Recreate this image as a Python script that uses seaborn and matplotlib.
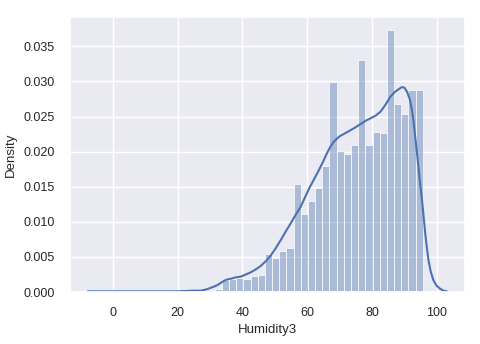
"""
Humidity3 분포 — 히스토그램(density) + KDE 곡선 재현
"""
import pandas as pd
import matplotlib
matplotlib.use("Agg")
import matplotlib.pyplot as plt
import seaborn as sns

# ── 데이터 ─────────────────────────────────────────
bin_start = 29.2
bin_width = 2.214
bar_density = [0.0002, 0.0004,
               0.0017, 0.0018, 0.0020, 0.0018, 0.0023, 0.0025,
               0.0054, 0.0049, 0.0058, 0.0063, 0.0154, 0.0111,
               0.0130, 0.0148, 0.0179, 0.0299, 0.0201, 0.0196,
               0.0210, 0.0330, 0.0210, 0.0228, 0.0226, 0.0373,
               0.0268, 0.0254, 0.0288, 0.0288]

kde_x = [-7.7, 0, 10, 20, 25, 27.2, 29, 30.2, 31.3, 32.3, 33.3, 34.3,
         35.3, 36.4, 38, 39.5, 41, 42.5, 44, 45.6, 47.2, 48.7, 50.2,
         51.8, 53.3, 54.9, 56.4, 57.9, 59.2, 60.5, 62, 63.5, 65, 66,
         67, 68, 68.8, 70, 72, 75, 78, 81, 82.6, 84, 85.6, 87, 88.2,
         89.2, 90, 90.8, 91.6, 92.3, 92.8, 93.3, 93.8, 94.3, 94.8,
         95.4, 95.9, 96.4, 96.9, 97.4, 98.1, 98.9, 99.9, 100.9, 102,
         103.1]
kde_y = [0.0001, 0.0001, 0.0001, 0.0001, 0.0002, 0.0002, 0.0004, 0.0006,
         0.0008, 0.0010, 0.0013, 0.0016, 0.0018, 0.0019, 0.0021,
         0.0022, 0.0025, 0.0028, 0.0032, 0.0037, 0.0044, 0.0052,
         0.0062, 0.0074, 0.0086, 0.0098, 0.0110, 0.0121, 0.0134,
         0.0147, 0.0160, 0.0173, 0.0187, 0.0197, 0.0206, 0.0213,
         0.0217, 0.0222, 0.0227, 0.0235, 0.0244, 0.0251, 0.0257,
         0.0266, 0.0278, 0.0285, 0.0289, 0.0292, 0.0291, 0.0285,
         0.0275, 0.0259, 0.0242, 0.0221, 0.0200, 0.0178, 0.0155,
         0.0131, 0.0107, 0.0083, 0.0063, 0.0045, 0.0029, 0.0017,
         0.0009, 0.0005, 0.0002, 0.0001]

xticks = [0, 20, 40, 60, 80, 100]
yticks = [0.000, 0.005, 0.010, 0.015, 0.020, 0.025, 0.030, 0.035]

# ── 스타일 ────────────────────────────────────────────────
sns.set_theme(style="darkgrid")
plt.rcParams["font.family"] = ["Liberation Sans", "DejaVu Sans"]

edges = [bin_start + bin_width * i for i in range(len(bar_density) + 1)]
centers = [(a + b) / 2 for a, b in zip(edges[:-1], edges[1:])]
hist_df = pd.DataFrame({"Humidity3": centers, "density": bar_density})
kde_df = pd.DataFrame({"x": kde_x, "y": kde_y})

blue = "#4C72B0"
fig = plt.figure(figsize=(4.8, 3.44), dpi=100)
ax = fig.add_axes([0.146, 0.151, 0.823, 0.800])

sns.histplot(data=hist_df, x="Humidity3", weights="density", bins=edges,
             stat="count", color=blue, alpha=0.4, edgecolor="white",
             linewidth=0.5, ax=ax)
sns.lineplot(data=kde_df, x="x", y="y", color=blue, lw=1.5, ax=ax)

ax.set_xlim(-13.2, 108.7)
ax.set_ylim(0, 0.0392)
ax.set_xticks(xticks)
ax.set_yticks(yticks)
ax.set_yticklabels([f"{v:.3f}" for v in yticks])
ax.tick_params(labelsize=9, colors="#262626", pad=5)
ax.set_xlabel("Humidity3", fontsize=9.5, labelpad=3)
ax.set_ylabel("Density", fontsize=9.5, labelpad=5)

plt.savefig("out.png", dpi=100)
plt.close()
